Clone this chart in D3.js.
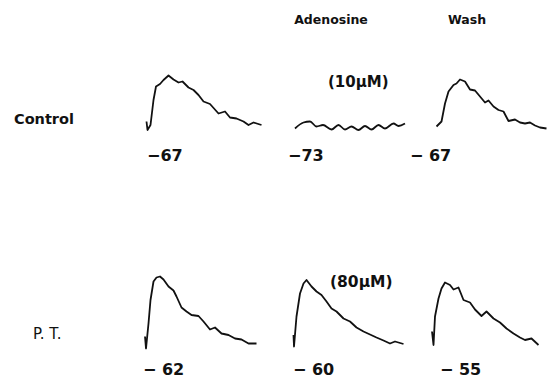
<!DOCTYPE html>
<html>
<head>
<meta charset="utf-8">
<script src="https://cdn.jsdelivr.net/npm/d3@7"></script>
<style>
  body { margin: 0; background: #fff; }
  svg text { font-family: "DejaVu Sans", "Liberation Sans", sans-serif; fill: #111; }
</style>
</head>
<body>
<svg width="552" height="379"></svg>
<script>
// time (ms from sweep start) and depolarisation (mV above baseline)
const conditions = ["Control", "Adenosine", "Wash"];
const rowLabels = ["Control", "P. T."];
const doseLabels = ["(10\u03BCM)", "(80\u03BCM)"];
const restingPotentials = [["\u221267", "\u221273", "\u2212 67"], ["\u2212 62", "\u2212 60", "\u2212 55"]];

const ctrlCtrlT = [3, 5, 11, 17, 22, 30, 37, 47, 57, 67, 75, 87, 97, 107, 117, 130, 147, 160, 170, 183, 197, 207, 217, 233];
const ctrlCtrlV = [1.7, 0, 1.0, 6.0, 8.7, 9.2, 10.0, 10.9, 10.1, 9.5, 9.7, 8.5, 8.0, 7.0, 5.7, 5.2, 3.3, 3.7, 2.5, 2.3, 1.7, 1.0, 1.5, 1.0];

const ctrlAdoT = [4, 21, 34, 47, 60, 77, 91, 104, 117, 131, 144, 157, 171, 184, 201, 211, 224];
const ctrlAdoV = [0.3, 1.5, 1.7, 0.7, 1.0, 0.1, 1.0, 0.1, 0.7, 0, 0.8, 0.1, 1.0, 0.3, 1.3, 0.8, 1.3];

const ctrlWashT = [9, 19, 26, 33, 43, 49, 56, 66, 76, 86, 96, 106, 113, 123, 133, 143, 153, 166, 176, 186, 196, 206, 216, 229];
const ctrlWashV = [0.7, 1.7, 5.3, 7.7, 9.0, 9.3, 10.1, 9.7, 8.1, 7.9, 6.7, 5.5, 5.9, 4.7, 4.0, 3.7, 1.8, 2.1, 1.5, 1.3, 1.5, 0.9, 0.5, 0.3];

const ptCtrlT = [0, 2, 7, 11, 17, 23, 30, 37, 47, 57, 63, 73, 83, 93, 107, 117, 130, 140, 153, 167, 180, 193, 207, 223];
const ptCtrlV = [2.3, -0.1, 4.9, 9.6, 13.3, 14.1, 14.3, 13.7, 12.3, 11.5, 10.3, 8.1, 7.3, 6.6, 6.4, 5.3, 3.7, 4.1, 2.9, 2.6, 1.9, 1.7, 0.9, 0.9];

const ptAdoT = [1, 2, 7, 14, 21, 27, 37, 47, 57, 67, 77, 87, 101, 114, 127, 141, 154, 167, 181, 194, 204, 221];
const ptAdoV = [2.6, 0.3, 6.3, 10.9, 12.9, 13.6, 12.3, 11.3, 10.6, 9.3, 7.9, 7.3, 5.9, 5.3, 4.1, 3.3, 2.7, 2.1, 1.5, 0.9, 1.3, 0.8];

const ptWashT = [0, 3, 6, 13, 19, 26, 36, 43, 53, 63, 76, 86, 99, 109, 123, 136, 149, 163, 176, 186, 199, 213];
const ptWashV = [3.3, 0.6, 6.3, 9.9, 11.9, 13.1, 12.6, 11.7, 12.1, 9.6, 9.1, 7.7, 6.4, 7.3, 5.9, 5.1, 3.9, 2.9, 2.1, 1.6, 1.9, 0.6];

const traces = [
  [[ctrlCtrlT, ctrlCtrlV], [ctrlAdoT, ctrlAdoV], [ctrlWashT, ctrlWashV]],
  [[ptCtrlT, ptCtrlV], [ptAdoT, ptAdoV], [ptWashT, ptWashV]]
];

const svg = d3.select("svg");

const colStart = [145, 293, 432];
const rowBase = [130, 348];

traces.forEach((row, r) => {
  const y = d3.scaleLinear().domain([0, 16]).range([rowBase[r], rowBase[r] - 80]);
  row.forEach((tr, c) => {
    const x = d3.scaleLinear().domain([0, 240]).range([colStart[c], colStart[c] + 120]);
    const pts = tr[0].map((t, i) => ({ x: x(t), y: y(tr[1][i]) }));
    // the blocked response is a smooth small ripple, the others are noisy
    const line = d3.line()
      .x(d => d.x)
      .y(d => d.y)
      .curve(r === 0 && c === 1 ? d3.curveMonotoneX : d3.curveLinear);
    svg.append("path")
      .attr("d", line(pts))
      .attr("fill", "none")
      .attr("stroke", "#111")
      .attr("stroke-width", 1.8)
      .attr("stroke-linejoin", "round");
  });
});

// column headers
svg.append("text").attr("x", 331).attr("y", 24).attr("text-anchor", "middle")
  .attr("font-size", 12.5).attr("font-weight", "bold").text(conditions[1]);
svg.append("text").attr("x", 467).attr("y", 24).attr("text-anchor", "middle")
  .attr("font-size", 12.5).attr("font-weight", "bold").text(conditions[2]);

// row labels
svg.append("text").attr("x", 14).attr("y", 124)
  .attr("font-size", 14.5).attr("font-weight", "bold").text(rowLabels[0]);
svg.append("text").attr("x", 33).attr("y", 339)
  .attr("font-size", 15).text(rowLabels[1]);

// dose labels
svg.append("text").attr("x", 328).attr("y", 87)
  .attr("font-size", 15).attr("font-weight", "bold").text(doseLabels[0]);
svg.append("text").attr("x", 330).attr("y", 287)
  .attr("font-size", 15.5).attr("font-weight", "bold").text(doseLabels[1]);

// resting potentials
const potX = [[147, 288, 410], [143, 293, 440]];
const potY = [161, 375];
restingPotentials.forEach((row, r) => {
  row.forEach((s, c) => {
    svg.append("text").attr("x", potX[r][c]).attr("y", potY[r])
      .attr("font-size", 16).attr("font-weight", "bold").text(s);
  });
});
</script>
</body>
</html>
